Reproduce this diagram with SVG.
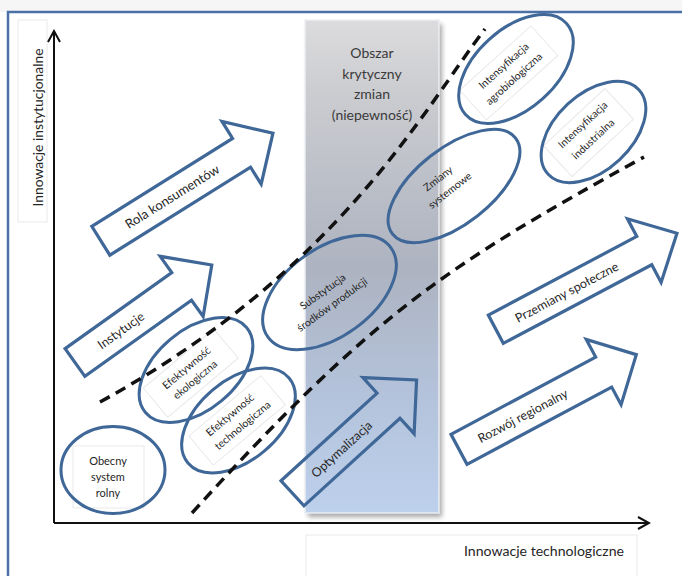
<svg xmlns="http://www.w3.org/2000/svg" width="682" height="576" viewBox="0 0 682 576">
<defs>
<linearGradient id="boxg" x1="0" y1="0" x2="0" y2="1">
<stop offset="0" stop-color="#dcdcde"/>
<stop offset="0.15" stop-color="#cbccd0"/>
<stop offset="0.5" stop-color="#adb3c0"/>
<stop offset="0.75" stop-color="#b3c2da"/>
<stop offset="1" stop-color="#bdd0ec"/>
</linearGradient>
<filter id="sh" x="-10%" y="-10%" width="120%" height="120%"><feGaussianBlur stdDeviation="2.5"/></filter>
<marker id="ah" viewBox="0 0 14 14" refX="12" refY="7" markerWidth="14" markerHeight="14" markerUnits="userSpaceOnUse" orient="auto"><path d="M1,1 L12,7 L1,13" fill="none" stroke="#111" stroke-width="2"/></marker>
<style>
.tb{fill:#fff;stroke:#e9e9e9;stroke-width:1}
.el{fill:none;stroke:#3f6797;stroke-width:3}
.ar{fill:none;stroke:#3f6797;stroke-width:3.2;stroke-linejoin:miter}
.ax{fill:none;stroke:#111;stroke-width:2}
.ds{fill:none;stroke:#111;stroke-width:3.5;stroke-dasharray:11 7}
text{font-family:Lato,"Liberation Sans",sans-serif;fill:#262626}
.sm{font-size:10.5px;text-anchor:middle}
.md{font-size:12.5px;text-anchor:middle}
.bx{font-size:14px;text-anchor:middle;fill:#3a3a3a}
.lb{font-size:13.5px}
</style>
</defs>
<rect x="0" y="0" width="682" height="576" fill="#ffffff"/>
<rect x="0" y="0" width="682" height="12" fill="#f6f6f6"/>
<rect x="8" y="12" width="700" height="600" fill="#ffffff" stroke="#4a70a6" stroke-width="2.5"/>

<g id="label-boxes">
<rect class="tb" x="18" y="20" width="29" height="202"/>
<rect class="tb" x="306" y="535" width="331" height="45"/>
<rect class="tb" x="73" y="446" width="71" height="62"/>
<rect class="tb" transform="translate(196,370) rotate(-40)" x="-52" y="-20" width="92" height="38"/>
<rect class="tb" transform="translate(238.5,420.5) rotate(-40)" x="-48" y="-20" width="94" height="38"/>
<rect class="tb" transform="translate(516,69) rotate(-42)" x="-56" y="-22" width="96" height="40"/>
<rect class="tb" transform="translate(593.5,132) rotate(-43)" x="-46" y="-24" width="84" height="42"/>
</g>

<g id="critical-area">
<rect x="308" y="24" width="134" height="493" fill="#000" opacity="0.35" filter="url(#sh)"/>
<rect x="305" y="20" width="134" height="493" fill="url(#boxg)" stroke="#eef0f4" stroke-opacity="0.7" stroke-width="2"/>
<text class="bx" x="372" y="58">Obszar</text>
<text class="bx" x="372" y="78.5">krytyczny</text>
<text class="bx" x="372" y="99">zmian</text>
<text class="bx" x="372" y="119.5">(niepewność)</text>
</g>

<g id="axes">
<line class="ax" x1="54" y1="523" x2="54" y2="31" marker-end="url(#ah)"/>
<line class="ax" x1="54" y1="523" x2="649" y2="523" marker-end="url(#ah)"/>
<text class="lb" transform="translate(43,127.5) rotate(-90)" text-anchor="middle" textLength="158" lengthAdjust="spacingAndGlyphs">Innowacje instytucjonalne</text>
<text class="lb" x="464" y="556" textLength="160" lengthAdjust="spacingAndGlyphs">Innowacje technologiczne</text>
</g>

<g id="obecny-system-rolny">
<ellipse class="el" cx="113" cy="470" rx="52" ry="43.5"/>
<text class="sm" x="108" y="465" style="font-size:11px">Obecny</text>
<text class="sm" x="108" y="481" style="font-size:11px">system</text>
<text class="sm" x="108" y="497" style="font-size:11px">rolny</text>
</g>

<g id="efektywnosc-ekologiczna" transform="translate(196,370) rotate(-40)">
<ellipse class="el" cx="0" cy="0" rx="66" ry="40"/>
<text class="sm" x="-6" y="-4">Efektywność</text>
<text class="sm" x="-7" y="10.5">ekologiczna</text>
</g>

<g id="efektywnosc-technologiczna" transform="translate(238.5,420.5) rotate(-40)">
<ellipse class="el" cx="0" cy="0" rx="66" ry="40"/>
<text class="sm" x="-3" y="-6">Efektywność</text>
<text class="sm" x="0" y="10">technologiczna</text>
</g>

<g id="substytucja" transform="translate(329.5,292.5) rotate(-36)">
<ellipse class="el" cx="0" cy="0" rx="76" ry="44"/>
<text class="sm" x="-5" y="-1">Substytucja</text>
<text class="sm" x="-5" y="15">środków produkcji</text>
</g>

<g id="zmiany-systemowe" transform="translate(454,186) rotate(-38)">
<ellipse class="el" cx="0" cy="0" rx="78" ry="38"/>
<text class="sm" x="-8" y="-12">Zmiany</text>
<text class="sm" x="-6" y="4.5">systemowe</text>
</g>

<g id="intensyfikacja-agrobiologiczna" transform="translate(516,69) rotate(-42)">
<ellipse class="el" cx="0" cy="0" rx="68" ry="40"/>
<text class="sm" x="-7" y="-7">Intensyfikacja</text>
<text class="sm" x="-8" y="9.5">agrobiologiczna</text>
</g>

<g id="intensyfikacja-industrialna" transform="translate(593.5,132) rotate(-43)">
<ellipse class="el" cx="0" cy="0" rx="62" ry="38"/>
<text class="sm" x="-3" y="-9">Intensyfikacja</text>
<text class="sm" x="-5" y="8.5">industrialna</text>
</g>

<g id="connectors">
<path class="ds" d="M100,402 C340,270 425,107 485,29"/>
<path class="ds" d="M192,513 C372,315 444,267 644,157"/>
</g>

<g id="rola-konsumentow" transform="translate(100.8,240.8) rotate(-32)">
<polygon class="ar" points="0,-17 166,-17 166,-37 203,0 166,37 166,17 0,17"/>
<text class="md" x="84" y="5" style="font-size:13px">Rola konsumentów</text>
</g>

<g id="instytucje" transform="translate(75,362.5) rotate(-35.5)">
<polygon class="ar" points="0,-17 131,-17 131,-37 168,0 131,37 131,17 0,17"/>
<text class="md" x="56" y="5">Instytucje</text>
</g>

<g id="optymalizacja" transform="translate(292.5,493.3) rotate(-42.4)">
<polygon class="ar" points="0,-17 130,-17 130,-38 168,0 130,38 130,17 0,17"/>
<text class="md" x="66" y="5">Optymalizacja</text>
</g>

<g id="przemiany-spoleczne" transform="translate(495.8,329.2) rotate(-27.9)">
<polygon class="ar" points="0,-16 168,-16 168,-36 205,0 168,36 168,16 0,16"/>
<text class="md" x="80" y="5">Przemiany społeczne</text>
</g>

<g id="rozwoj-regionalny" transform="translate(459,449.3) rotate(-28.1)">
<polygon class="ar" points="0,-17 164,-17 164,-37 201,0 164,37 164,17 0,17"/>
<text class="md" x="72" y="5">Rozwój regionalny</text>
</g>
</svg>
